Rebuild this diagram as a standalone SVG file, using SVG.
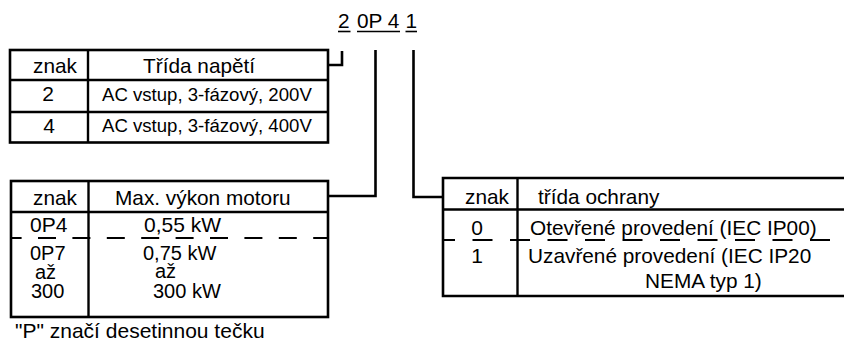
<svg xmlns="http://www.w3.org/2000/svg" width="844" height="342" viewBox="0 0 844 342">
  <style>
    .frame { fill: none; stroke: #000; stroke-width: 2.6; }
    .rule { fill: none; stroke: #000; stroke-width: 2.4; }
    .dash { fill: none; stroke: #000; stroke-width: 2; }
    .wire { fill: none; stroke: #000; stroke-width: 2.6; }
    .ul { stroke: #000; stroke-width: 1.6; }
    text { font-family: "Liberation Sans", Arial, Helvetica, sans-serif; fill: #000; }
    .h { font-size: 20.8px; }
    .d { font-size: 21px; }
    .k { font-size: 20px; }
    .s { font-size: 18.6px; }
  </style>

  <rect width="844" height="342" fill="#fff"/>

  <!-- model code -->
  <g id="code">
    <text class="h" x="338" y="28">2</text>
    <text class="h" x="357" y="28">0P 4</text>
    <text class="h" x="405.5" y="28">1</text>
    <line class="ul" x1="338" y1="31.5" x2="350.5" y2="31.5"/>
    <line class="ul" x1="357" y1="31.5" x2="400" y2="31.5"/>
    <line class="ul" x1="405.5" y1="31.5" x2="417" y2="31.5"/>
  </g>

  <!-- voltage class table -->
  <g id="table-voltage">
    <rect class="frame" x="10" y="50" width="318" height="92.5"/>
    <line class="rule" x1="88" y1="50" x2="88" y2="142.5"/>
    <line class="rule" x1="10" y1="80" x2="328" y2="80"/>
    <line class="rule" x1="10" y1="112" x2="328" y2="112"/>
    <text class="h" x="33" y="73">znak</text>
    <text class="h" x="143" y="73">Třída napětí</text>
    <text class="d" x="48" y="101" text-anchor="middle">2</text>
    <text class="s" x="102" y="101">AC vstup, 3-fázový, 200V</text>
    <text class="d" x="49" y="133" text-anchor="middle">4</text>
    <text class="s" x="102" y="132">AC vstup, 3-fázový, 400V</text>
  </g>

  <!-- motor power table -->
  <g id="table-power">
    <rect class="frame" x="11" y="181" width="317" height="136"/>
    <line class="rule" x1="88.5" y1="181" x2="88.5" y2="317"/>
    <line class="rule" x1="11" y1="212" x2="328" y2="212"/>
    <line class="dash" x1="11" y1="238" x2="329" y2="238" stroke-dasharray="18 16.4" stroke-dashoffset="7.4"/>
    <text class="h" x="33" y="205">znak</text>
    <text class="h" x="115" y="205">Max. výkon motoru</text>
    <text class="d" x="30" y="232">0P4</text>
    <text class="d" x="144" y="232">0,55 kW</text>
    <text class="k" x="30" y="260">0P7</text>
    <text class="k" x="35" y="278.5">až</text>
    <text class="k" x="31" y="298">300</text>
    <text class="k" x="143" y="260">0,75 kW</text>
    <text class="k" x="155" y="278">až</text>
    <text class="k" x="153" y="298">300 kW</text>
  </g>

  <!-- note under the power table -->
  <g id="note">
    <text class="d" x="15" y="338">"P" značí desetinnou tečku</text>
  </g>

  <!-- protection class table (runs off the right edge) -->
  <g id="table-protection">
    <polyline class="frame" points="845,178 443,178 443,296 845,296"/>
    <line class="rule" x1="517.5" y1="178" x2="517.5" y2="296"/>
    <line class="rule" x1="443" y1="209.5" x2="845" y2="209.5"/>
    <line class="dash" x1="443" y1="240" x2="832" y2="240" stroke-dasharray="20 17.5" stroke-dashoffset="8"/>
    <text class="h" x="465" y="204">znak</text>
    <text class="h" x="538" y="204">třída ochrany</text>
    <text class="d" x="477" y="235" text-anchor="middle">0</text>
    <text class="h" x="530" y="235">Otevřené provedení (IEC IP00)</text>
    <text class="d" x="477" y="263" text-anchor="middle">1</text>
    <text class="h" x="528" y="263">Uzavřené provedení (IEC IP20</text>
    <text class="h" x="645" y="288">NEMA typ 1)</text>
  </g>

  <!-- leader lines from code digits to their tables -->
  <g id="connectors">
    <polyline class="wire" points="328,65 342,65 342,51"/>
    <polyline class="wire" points="328,196 375.5,196 375.5,50"/>
    <polyline class="wire" points="443,197 413.5,197 413.5,50"/>
  </g>
</svg>
